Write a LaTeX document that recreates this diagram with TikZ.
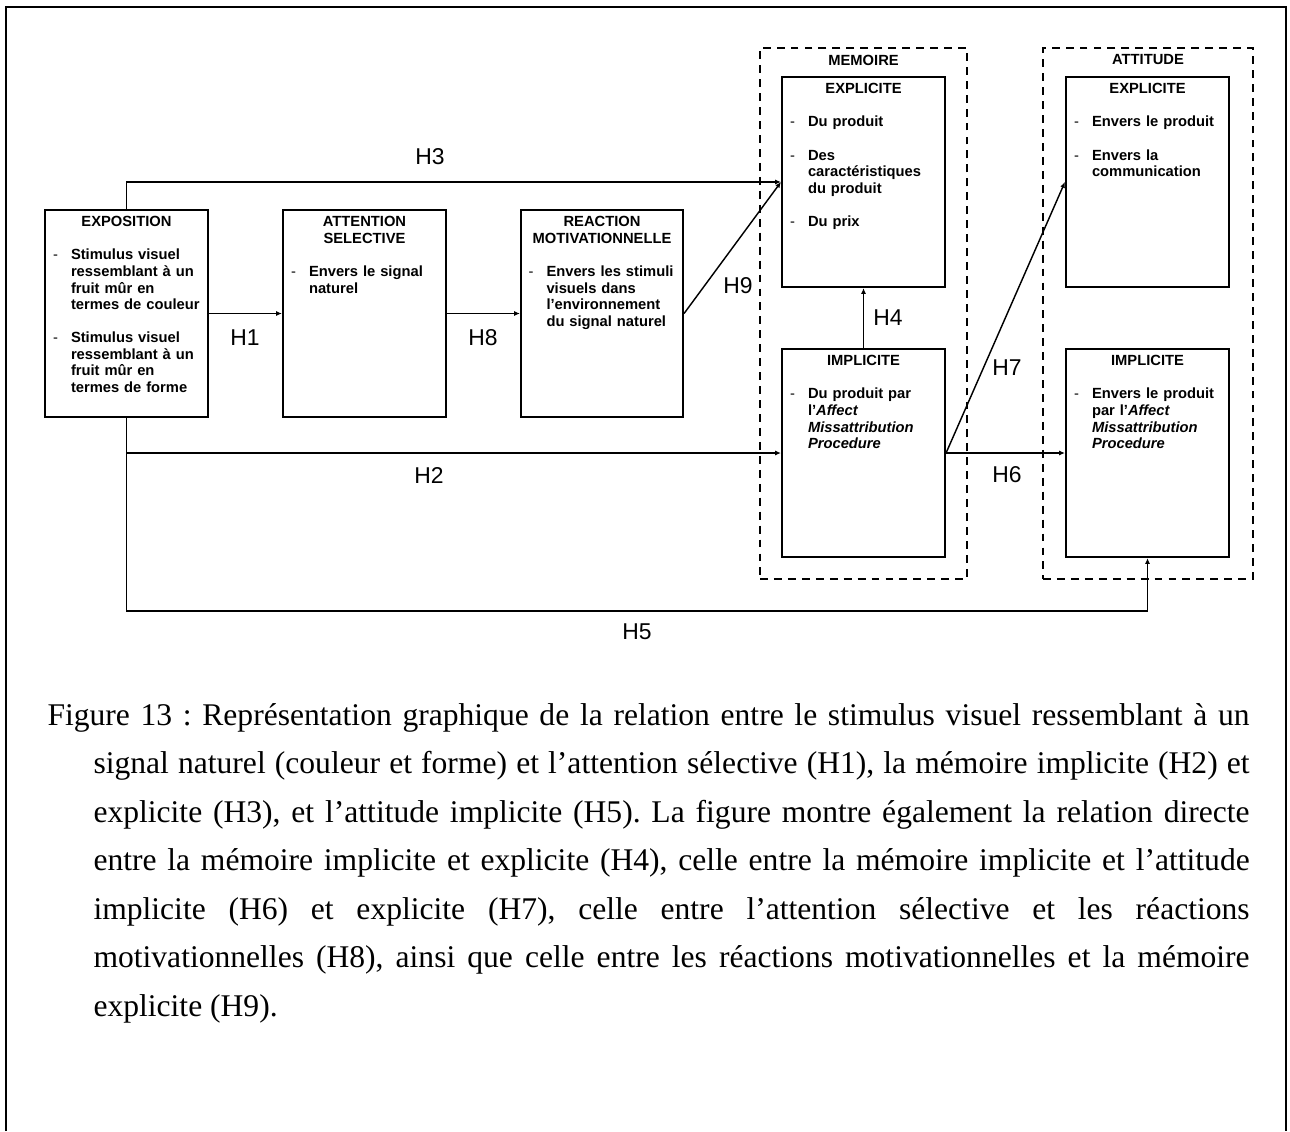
\documentclass[tikz,border=0pt]{standalone}
\usepackage{fontspec}
\setmainfont{Liberation Serif}
\newfontfamily\arialf{Liberation Sans}
\usetikzlibrary{arrows.meta}
\newdimen\pxu \pxu=0.38pt
\newcommand{\boxfont}{\arialf\bfseries\fontsize{5.6pt}{6.3pt}\selectfont}
\newcommand{\hypfont}{\arialf\fontsize{8.7pt}{10pt}\selectfont}
\newcommand{\capfont}{\fontsize{12pt}{18.4pt}\selectfont\frenchspacing}
\newcommand{\ttl}[1]{\makebox[147\pxu]{#1}}
\newcommand{\dsh}{\makebox[18\pxu][l]{\mdseries -}}
\newcommand{\ind}{\hspace*{18\pxu}}
\newcommand{\capline}[2][46]{\hspace*{#1\pxu}{\spaceskip=0pt\xspaceskip=0pt\makebox[\dimexpr1202\pxu-#1\pxu\relax][s]{#2}}}

\tikzset{
  stage/.style={draw, line width=0.8pt, minimum width=163*\pxu, minimum height=207*\pxu, inner sep=0},
  zone/.style={draw, line width=0.8pt, dash pattern=on 3pt off 2.3pt, inner sep=0, minimum height=531*\pxu},
  boxtext/.style={anchor=north, inner sep=0, text width=147*\pxu, align=left, font=\boxfont, yshift=-7*\pxu},
  hyp/.style={font=\hypfont, inner sep=0},
  link/.style={line width=0.55pt, -{Latex[length=2.2pt,width=1.9pt]}},
}

\begin{document}
\begin{tikzpicture}[x=0.38pt,y=-0.38pt]
\useasboundingbox (0,0) rectangle (1290,1131);
\draw[line width=0.8pt] (6,1131) -- (6,7) -- (1286,7) -- (1286,1131);

% dashed groups
\node[zone, minimum width=207*\pxu] (memoire) at (863.5,313.5) {};
\node[zone, minimum width=210*\pxu] (attitude) at (1148,313.5) {};
\node[font=\boxfont, inner sep=0] (memoire-t) at (863.5,60) {MEMOIRE};
\node[font=\boxfont, inner sep=0] (attitude-t) at (1148,60) {ATTITUDE};

% stages
\node[stage] (expo) at (126.5,313.5) {};
\node[stage] (atten) at (364.5,313.5) {};
\node[stage, minimum width=162*\pxu] (react) at (602,313.5) {};
\node[stage, minimum height=210*\pxu] (memex) at (863.5,182) {};
\node[stage, minimum height=208*\pxu] (memim) at (863.5,453) {};
\node[stage, minimum height=210*\pxu] (attex) at (1147.5,182) {};
\node[stage, minimum height=208*\pxu] (attim) at (1147.5,453) {};

\node[boxtext] (expo-t) at (expo.north) {\ttl{EXPOSITION}\\[6.3pt]
  \dsh Stimulus visuel\\ \ind ressemblant à un\\ \ind fruit mûr en\\ \ind termes de couleur\\[6.3pt]
  \dsh Stimulus visuel\\ \ind ressemblant à un\\ \ind fruit mûr en\\ \ind termes de forme};
\node[boxtext] (atten-t) at (atten.north) {\ttl{ATTENTION}\\ \ttl{SELECTIVE}\\[6.3pt]
  \dsh Envers le signal\\ \ind naturel};
\node[boxtext] (react-t) at (react.north) {\ttl{REACTION}\\ \ttl{MOTIVATIONNELLE}\\[6.3pt]
  \dsh Envers les stimuli\\ \ind visuels dans\\ \ind l’environnement\\ \ind du signal naturel};
\node[boxtext] (memex-t) at (memex.north) {\ttl{EXPLICITE}\\[6.3pt]
  \dsh Du produit\\[6.3pt]
  \dsh Des\\ \ind caractéristiques\\ \ind du produit\\[6.3pt]
  \dsh Du prix};
\node[boxtext] (memim-t) at (memim.north) {\ttl{IMPLICITE}\\[6.3pt]
  \dsh Du produit par\\ \ind l’\textit{Affect}\\ \ind \textit{Missattribution}\\ \ind \textit{Procedure}};
\node[boxtext] (attex-t) at (attex.north) {\ttl{EXPLICITE}\\[6.3pt]
  \dsh Envers le produit\\[6.3pt]
  \dsh Envers la\\ \ind communication};
\node[boxtext] (attim-t) at (attim.north) {\ttl{IMPLICITE}\\[6.3pt]
  \dsh Envers le produit\\ \ind par l’\textit{Affect}\\ \ind \textit{Missattribution}\\ \ind \textit{Procedure}};

% hypotheses
\draw[link] (expo.east) -- (atten.west);
\draw[link] (atten.east) -- (react.west);
\draw[link] (react.east) -- (memex.west);
\draw[link] (expo.north) |- (memex.west);
\draw[link] (memim.north) -- (memex.south);
\draw[link] (expo.south) |- (memim.west);
\draw[link] (memim.east) -- (attim.west);
\draw[link] (memim.east) -- (attex.west);
\draw[link] (expo.south) -- ++(0,193) -| (attim.south);

\node[hyp] (h1) at (245,338) {H1};
\node[hyp] (h8) at (483,338) {H8};
\node[hyp] (h3) at (430,157) {H3};
\node[hyp] (h9) at (738,286) {H9};
\node[hyp] (h4) at (888,318) {H4};
\node[hyp] (h7) at (1007,368) {H7};
\node[hyp] (h2) at (429,475) {H2};
\node[hyp] (h6) at (1007,475) {H6};
\node[hyp] (h5) at (637,632) {H5};

% caption
\node[anchor=north west, inner sep=0, text width=1202*\pxu, align=left, font=\capfont] (caption) at (47,703) {%
\capline[0]{Figure 13 : Représentation graphique de la relation entre le stimulus visuel ressemblant à un}\\
\capline{signal naturel (couleur et forme) et l’attention sélective (H1), la mémoire implicite (H2) et}\\
\capline{explicite (H3), et l’attitude implicite (H5). La figure montre également la relation directe}\\
\capline{entre la mémoire implicite et explicite (H4), celle entre la mémoire implicite et l’attitude}\\
\capline{implicite (H6) et explicite (H7), celle entre l’attention sélective et les réactions}\\
\capline{motivationnelles (H8), ainsi que celle entre les réactions motivationnelles et la mémoire}\\
\hspace*{46\pxu}{\spaceskip=0pt\xspaceskip=0pt explicite (H9).}};
\end{tikzpicture}
\end{document}
